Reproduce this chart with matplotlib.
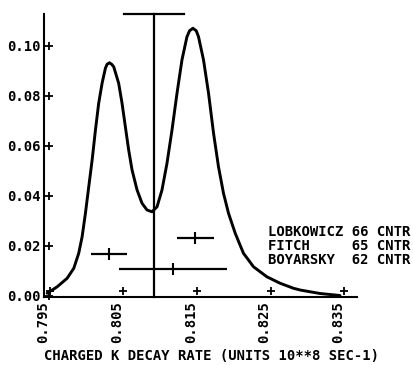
import matplotlib
matplotlib.use("Agg")
import matplotlib.pyplot as plt
from matplotlib.transforms import offset_copy

# ideogram curve
curve_x = [0.79550, 0.79686, 0.79821, 0.79911, 0.79978, 0.80024, 0.80069,
           0.80114, 0.80160, 0.80205, 0.80249, 0.80295, 0.80340, 0.80363,
           0.80394, 0.80425, 0.80453, 0.80520, 0.80566, 0.80611, 0.80656,
           0.80702, 0.80770, 0.80837, 0.80905, 0.80973, 0.81041, 0.81108,
           0.81176, 0.81244, 0.81312, 0.81379, 0.81447, 0.81482, 0.81528,
           0.81573, 0.81604, 0.81672, 0.81740, 0.81808, 0.81875, 0.81943,
           0.82011, 0.82102, 0.82214, 0.82350, 0.82531, 0.82711, 0.82892,
           0.82982, 0.83253, 0.83524]
curve_y = [0.0010, 0.0036, 0.0070, 0.0110, 0.0170, 0.0236, 0.0330,
           0.0436, 0.0543, 0.0663, 0.0770, 0.0850, 0.0910, 0.0926,
           0.0932, 0.0926, 0.0916, 0.0850, 0.0770, 0.0676, 0.0583,
           0.0503, 0.0423, 0.0370, 0.0343, 0.0336, 0.0356, 0.0423,
           0.0530, 0.0663, 0.0810, 0.0943, 0.1036, 0.1060, 0.1070,
           0.1060, 0.1036, 0.0943, 0.0810, 0.0650, 0.0516, 0.0410,
           0.0330, 0.0250, 0.0170, 0.0116, 0.0076, 0.0050, 0.0030,
           0.0023, 0.0009, 0.0001]

# measurements (value, error) and the height they are drawn at
meas_x = [0.8039, 0.8126, 0.8156]
meas_err = [0.0025, 0.0073, 0.0025]
meas_y = [0.0167, 0.0106, 0.0232]

mean_val = 0.8100
mean_err = 0.0041

legend_lines = ["LOBKOWICZ 66 CNTR", "FITCH     65 CNTR", "BOYARSKY  62 CNTR"]

xticks = [0.795, 0.805, 0.815, 0.825, 0.835]
xtick_labels = ["0.795", "0.805", "0.815", "0.825", "0.835"]
yticks = [0.00, 0.02, 0.04, 0.06, 0.08, 0.10]
ytick_labels = ["0.00", "0.02", "0.04", "0.06", "0.08", "0.10"]

font = dict(family="DejaVu Sans Mono", weight="bold", size=10)

fig = plt.figure(figsize=(4.14, 3.65), dpi=100)
ax = fig.add_axes([0.1051, 0.1863, 0.7572, 0.7753])
ax.set_xlim(0.795, 0.83755)
ax.set_ylim(-0.0005, 0.1127)

ax.plot(curve_x, curve_y, color="black", lw=2.1, solid_joinstyle="round",
        solid_capstyle="round")

ax.errorbar(meas_x, meas_y, xerr=meas_err, fmt="|", color="black",
            ms=9, mew=1.5, elinewidth=1.6, capsize=0)

ax.plot([mean_val, mean_val], [-0.0005, 0.1127], color="black", lw=1.6,
        clip_on=False)
ax.plot([mean_val - mean_err, mean_val + mean_err], [0.1127, 0.1127],
        color="black", lw=1.6, clip_on=False)

for sp in ["top", "right"]:
    ax.spines[sp].set_visible(False)
for sp in ["left", "bottom"]:
    ax.spines[sp].set_linewidth(1.5)

ax.set_xticks(xticks)
ax.set_xticklabels(xtick_labels, rotation=90, fontdict=font)
ax.set_yticks(yticks)
ax.set_yticklabels(ytick_labels, fontdict=font)
ax.tick_params(axis="both", length=0)
ax.tick_params(axis="x", pad=3)
ax.tick_params(axis="y", pad=2)

# plotter style "+" tick marks
tx = offset_copy(ax.transData, fig=fig, x=6, y=5, units="dots")
ax.plot(xticks, [0] * len(xticks), "+", color="black", ms=6, mew=1.3,
        transform=tx, clip_on=False)
ty = offset_copy(ax.transData, fig=fig, x=5, y=0, units="dots")
ax.plot([xticks[0]] * len(yticks), yticks, "+", color="black", ms=6, mew=1.3,
        transform=ty, clip_on=False)

for i, line in enumerate(legend_lines):
    fig.text(268 / 414, 1 - (232 + 14 * i) / 365, line, ha="left",
             va="center", **font)

fig.text(211 / 414, 1 - 356 / 365, "CHARGED K DECAY RATE (UNITS 10**8 SEC-1)",
         ha="center", va="center", **font)

fig.savefig("out.png", dpi=100)
